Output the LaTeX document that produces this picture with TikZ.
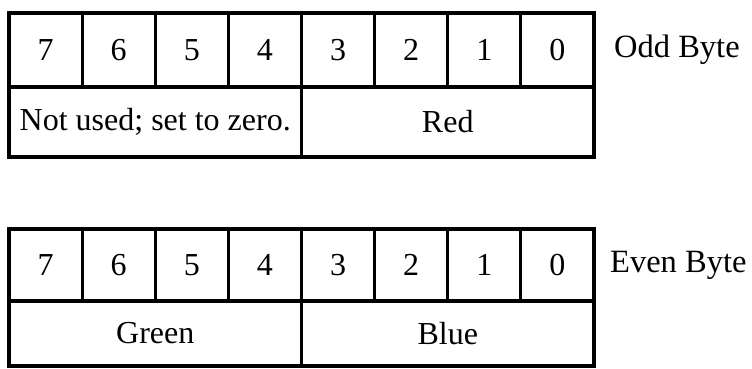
\documentclass[tikz,border=0pt]{standalone}
\usepackage{fontspec}
\setmainfont{Liberation Serif}

\begin{document}
\begin{tikzpicture}[x=1pt, y=-1pt,
    bitcell/.style={draw, line width=3.2pt, inner sep=0pt, outer sep=0pt,
      minimum width=73.1pt, font=\fontsize{32}{36}\selectfont},
    bytelabel/.style={anchor=west, inner sep=0pt, font=\fontsize{32.5}{36}\selectfont}]
  \useasboundingbox (0,0) rectangle (752,368);

  % odd byte: bit numbers
  \foreach \b [count=\i] in {7,6,5,4,3,2,1,0}
    \node[bitcell, minimum height=74pt] (oddbit\b) at ({9+73.125*(\i-0.5)},50) {\b};
  % odd byte: fields
  \node[bitcell, minimum width=292.5pt, minimum height=70pt] (oddfree) at (155.25,122) {Not used; set to zero.};
  \node[bitcell, minimum width=292.5pt, minimum height=70pt] (oddred) at (447.75,122) {Red};
  \node[bytelabel] (oddlabel) at (614,50) {Odd Byte};

  % even byte: bit numbers
  \foreach \b [count=\i] in {7,6,5,4,3,2,1,0}
    \node[bitcell, minimum height=72pt] (evenbit\b) at ({9+73.125*(\i-0.5)},265) {\b};
  % even byte: fields
  \node[bitcell, minimum width=292.5pt, minimum height=65pt] (evengreen) at (155.25,333.5) {Green};
  \node[bitcell, minimum width=292.5pt, minimum height=65pt] (evenblue) at (447.75,333.5) {Blue};
  \node[bytelabel] (evenlabel) at (610,265) {Even Byte};
\end{tikzpicture}
\end{document}
